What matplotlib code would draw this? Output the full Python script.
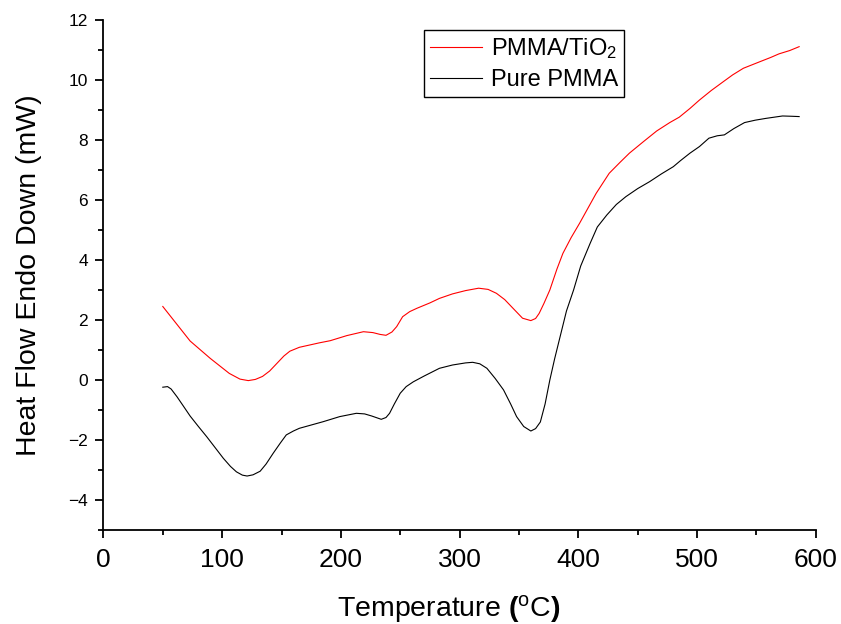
import numpy as np
import matplotlib
matplotlib.use('Agg')
import matplotlib.pyplot as plt
from matplotlib.ticker import MultipleLocator

plt.rcParams['font.family'] = ['Liberation Sans', 'DejaVu Sans']
plt.rcParams['mathtext.fontset'] = 'custom'
plt.rcParams['mathtext.rm'] = 'Liberation Sans'
plt.rcParams['mathtext.bf'] = 'Liberation Sans:bold'
plt.rcParams['mathtext.it'] = 'Liberation Sans:italic'

# DSC scan, PMMA/TiO2 composite
temp_tio2 = [50, 60, 73, 90, 106, 115, 122, 128, 134, 140, 146, 152, 157, 165,
             182, 191, 205, 219, 227, 233, 238, 243, 247, 252, 258, 264, 275,
             283, 294, 305, 316, 324, 331, 338, 345, 353, 360, 364, 367, 371,
             376, 382, 387, 394, 401, 408, 415, 426, 435, 443, 455, 466, 477,
             485, 494, 502, 512, 522, 530, 539, 553, 562, 569, 578, 586]
hf_tio2 = [2.45, 1.95, 1.3, 0.72, 0.22, 0.03, -0.02, 0.02, 0.12, 0.3, 0.55,
           0.8, 0.96, 1.09, 1.24, 1.31, 1.48, 1.61, 1.58, 1.52, 1.49, 1.6,
           1.78, 2.11, 2.28, 2.39, 2.57, 2.72, 2.87, 2.98, 3.06, 3.02, 2.89,
           2.68, 2.39, 2.06, 1.98, 2.05, 2.22, 2.55, 3.0, 3.7, 4.22, 4.75,
           5.22, 5.72, 6.22, 6.89, 7.25, 7.56, 7.95, 8.3, 8.58, 8.76, 9.05,
           9.33, 9.65, 9.94, 10.17, 10.39, 10.61, 10.75, 10.87, 10.98, 11.11]

# DSC scan, neat PMMA
temp_pure = [50, 54, 57, 62, 67, 73, 80, 87, 94, 101, 107, 112, 117, 121, 126,
             132, 137, 143, 149, 154, 160, 165, 175, 185, 199, 213, 220, 226,
             234, 238, 241, 245, 250, 255, 261, 270, 283, 294, 305, 311, 317,
             323, 330, 337, 343, 348, 354, 360, 364, 368, 372, 376, 380, 385,
             390, 396, 402, 410, 416, 424, 432, 440, 450, 460, 470, 480, 486,
             494, 502, 510, 517, 523, 531, 540, 549, 558, 565, 572, 580, 586]
hf_pure = [-0.24, -0.22, -0.3, -0.56, -0.85, -1.2, -1.55, -1.89, -2.25, -2.61,
           -2.88, -3.06, -3.17, -3.2, -3.16, -3.04, -2.8, -2.44, -2.1, -1.83,
           -1.7, -1.61, -1.5, -1.39, -1.22, -1.11, -1.13, -1.2, -1.31, -1.25,
           -1.11, -0.8, -0.44, -0.22, -0.06, 0.13, 0.39, 0.5, 0.57, 0.59, 0.54,
           0.39, 0.05, -0.33, -0.8, -1.22, -1.55, -1.7, -1.62, -1.4, -0.8, 0.0,
           0.7, 1.5, 2.3, 3.0, 3.8, 4.56, 5.1, 5.5, 5.85, 6.11, 6.38, 6.61,
           6.87, 7.11, 7.31, 7.56, 7.78, 8.06, 8.14, 8.17, 8.38, 8.58, 8.66,
           8.72, 8.76, 8.8, 8.79, 8.78]

fig = plt.figure(figsize=(8.41, 6.24), dpi=100)
ax = fig.add_axes([0.123, 0.1506, 0.847, 0.8174])

ax.plot(temp_tio2, hf_tio2, color='red', lw=0.8, label=r'PMMA/TiO$_2$')
ax.plot(temp_pure, hf_pure, color='black', lw=0.8, label='Pure PMMA')

ax.set_xlim(0, 600)
ax.set_ylim(-5, 12)
ax.xaxis.set_major_locator(MultipleLocator(100))
ax.xaxis.set_minor_locator(MultipleLocator(50))
ax.yaxis.set_major_locator(MultipleLocator(2))
ax.yaxis.set_minor_locator(MultipleLocator(1))
ax.set_yticks([-4, -2, 0, 2, 4, 6, 8, 10, 12])

for side in ['top', 'right']:
    ax.spines[side].set_visible(False)
for side in ['left', 'bottom']:
    ax.spines[side].set_linewidth(1.3)

ax.tick_params(which='major', direction='out', length=6, width=1.3)
ax.tick_params(which='minor', direction='out', length=3.5, width=1.3)
ax.tick_params(axis='x', which='major', labelsize=19, pad=7)
ax.tick_params(axis='y', which='major', labelsize=12.5, pad=5)

ax.set_xlabel(r'Temperature $\mathbf{(}^{\mathrm{o}}\mathrm{C}\mathbf{)}$',
              fontsize=20.5, labelpad=15)
ax.xaxis.label.set_x(0.485)
ax.set_ylabel('Heat Flow Endo Down (mW)', fontsize=20.5, labelpad=19)

leg = ax.legend(loc='upper left', bbox_to_anchor=(0.45, 0.98), borderaxespad=0,
                fontsize=17, frameon=True, fancybox=False, framealpha=1,
                edgecolor='black', handlelength=2.2, handletextpad=0.4,
                borderpad=0.25, labelspacing=0.35)
leg.get_frame().set_linewidth(1.0)

fig.savefig('out.png', dpi=100)
